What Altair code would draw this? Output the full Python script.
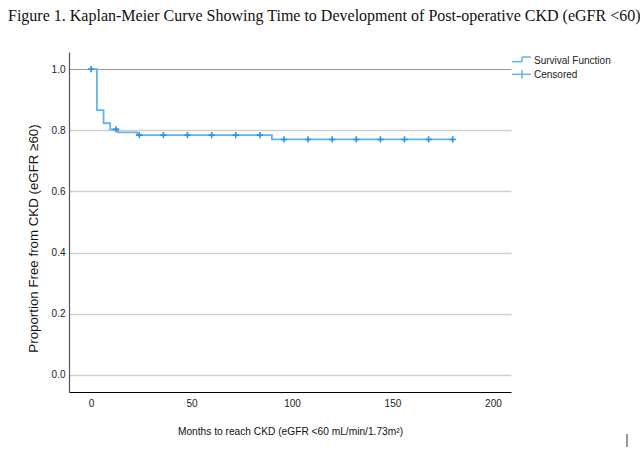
import altair as alt
import pandas as pd

# Kaplan-Meier step function: event times (months) and survival estimate after each step
step_time = [0, 2.9, 6.2, 9.5, 13.4, 23.0, 90.0, 180.0]
step_surv = [1.0, 0.866, 0.823, 0.803, 0.793, 0.784, 0.770, 0.770]

# Censored observations (months, survival at that time)
cens_time = [0, 12.4, 24, 36, 48, 60, 72, 84, 96, 108, 120, 132, 144, 156, 168, 180]
cens_surv = [1.0, 0.803, 0.784, 0.784, 0.784, 0.784, 0.784, 0.784,
             0.770, 0.770, 0.770, 0.770, 0.770, 0.770, 0.770, 0.770]

legend_labels = ["Survival Function", "Censored"]

LINE = "#63b3f2"
MARK = "#2b92e4"
W, H = 442, 340

curve_df = pd.DataFrame({"t": step_time, "s": step_surv})
cens_df = pd.DataFrame({"t": cens_time, "s": cens_surv})

x_scale = alt.Scale(domain=[-11, 209], nice=False, zero=False)
y_scale = alt.Scale(domain=[-0.056, 1.056], nice=False, zero=False)

x_axis = alt.Axis(
    title="Months to reach CKD (eGFR <60 mL/min/1.73m²)",
    values=[0, 50, 100, 150, 200], grid=False, ticks=False,
    domainColor="#000000", domainWidth=1.2,
    labelFont="Liberation Sans", labelFontSize=10, labelColor="#222222",
    labelPadding=6,
    titleFont="Liberation Sans", titleFontSize=10.2, titleFontWeight="normal",
    titleColor="#111111", titlePadding=18,
)
y_axis = alt.Axis(
    title="Proportion Free from CKD (eGFR ≥60)",
    values=[0, 0.2, 0.4, 0.6, 0.8, 1.0], format=".1f", ticks=False,
    domainColor="#555555", domainWidth=1.2,
    grid=True,
    gridColor={"condition": {"test": "datum.value == 1", "value": "#9a9a9a"}, "value": "#cfcfcf"},
    gridWidth={"condition": {"test": "datum.value == 1", "value": 1.2}, "value": 1.6},
    labelFont="Liberation Sans", labelFontSize=10, labelColor="#222222",
    labelPadding=4,
    titleFont="Liberation Sans", titleFontSize=13.3, titleFontWeight="normal",
    titleColor="#111111", titleX=-29, titleY=186, titleBaseline="bottom",
)

curve = alt.Chart(curve_df).mark_line(
    interpolate="step-after", color=LINE, strokeWidth=1.8
).encode(
    x=alt.X("t:Q", scale=x_scale, axis=x_axis),
    y=alt.Y("s:Q", scale=y_scale, axis=y_axis),
)

# Thin "+" marks for censored cases
censored = alt.Chart(cens_df).mark_point(
    shape="M-1,0H1M0,-1V1", filled=False, color=MARK, strokeWidth=1.6,
    size=40, opacity=1
).encode(
    x=alt.X("t:Q", scale=x_scale),
    y=alt.Y("s:Q", scale=y_scale),
)

# Hand-drawn legend glyphs to the right of the plot
leg_step = [
    alt.Chart().mark_rule(color=LINE, strokeWidth=1.5).encode(
        x=alt.value(x1), x2=alt.value(x2), y=alt.value(y1), y2=alt.value(y2))
    for (x1, y1, x2, y2) in [(443, 9.7, 453, 9.7), (453, 9.7, 453, 5), (453, 5, 462, 5)]
]
leg_cross = [
    alt.Chart().mark_rule(color=LINE, strokeWidth=1.5).encode(
        x=alt.value(x1), x2=alt.value(x2), y=alt.value(y1), y2=alt.value(y2))
    for (x1, y1, x2, y2) in [(443, 22.3, 462, 22.3), (453, 18, 453, 26.5)]
]
leg_text = [
    alt.Chart().mark_text(
        align="left", baseline="middle", font="Liberation Sans", fontSize=10,
        color="#222222", text=lab
    ).encode(x=alt.value(465), y=alt.value(yy))
    for lab, yy in zip(legend_labels, [8.5, 22.5])
]
cursor = alt.Chart().mark_rule(color="#333333", strokeWidth=1).encode(
    x=alt.value(558), x2=alt.value(558), y=alt.value(382), y2=alt.value(395))

chart = alt.layer(
    curve, censored, *leg_step, *leg_cross, *leg_text, cursor
).properties(
    width=W, height=H,
    title=alt.TitleParams(
        "Figure 1. Kaplan-Meier Curve Showing Time to Development of Post-operative CKD (eGFR <60)",
        font="Liberation Serif", fontSize=16, fontWeight="normal", color="#111111",
        anchor="start", frame="group", dx=-61, offset=28,
    ),
    autosize=alt.AutoSizeParams(type="none"),
    padding={"left": 69, "top": 52, "right": 129, "bottom": 58},
).configure(background="#ffffff").configure_view(strokeWidth=0, stroke="transparent")

chart.save("out.html", embed_options={"renderer": "svg", "actions": False})
